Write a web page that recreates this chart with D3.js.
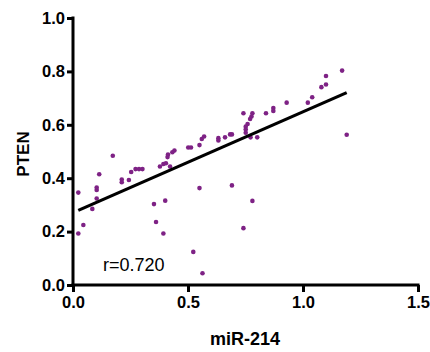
<!DOCTYPE html>
<html>
<head>
<meta charset="utf-8">
<script src="https://cdn.jsdelivr.net/npm/d3@7"></script>
<style>
body { margin: 0; background: #fff; }
text { font-family: "Liberation Sans", Arial, sans-serif; }
</style>
</head>
<body>
<script>
// miR-214 (x) vs PTEN (y)
var mir214 = [0.023, 0.023, 0.045, 0.084, 0.103, 0.103, 0.103, 0.114, 0.173, 0.212,
  0.212, 0.243, 0.253, 0.272, 0.287, 0.302, 0.352, 0.361, 0.378, 0.393,
  0.404, 0.411, 0.413, 0.422, 0.393, 0.401, 0.432, 0.441, 0.501, 0.513,
  0.550, 0.550, 0.560, 0.570, 0.523, 0.563, 0.632, 0.632, 0.661, 0.683,
  0.691, 0.691, 0.741, 0.780, 0.741, 0.780, 0.776, 0.770, 0.759, 0.751,
  0.751, 0.751, 0.772, 0.801, 0.839, 0.871, 0.871, 0.929, 1.021, 1.040,
  1.080, 1.100, 1.100, 1.170, 1.190];
var pten = [0.346, 0.193, 0.225, 0.285, 0.324, 0.356, 0.365, 0.415, 0.484, 0.395,
  0.385, 0.393, 0.423, 0.434, 0.434, 0.434, 0.303, 0.236, 0.444, 0.453,
  0.456, 0.479, 0.489, 0.444, 0.193, 0.316, 0.497, 0.504, 0.515, 0.515,
  0.524, 0.363, 0.547, 0.556, 0.124, 0.044, 0.550, 0.541, 0.553, 0.564,
  0.564, 0.373, 0.213, 0.315, 0.643, 0.643, 0.631, 0.622, 0.603, 0.593,
  0.582, 0.570, 0.553, 0.553, 0.643, 0.663, 0.652, 0.683, 0.683, 0.703,
  0.741, 0.751, 0.783, 0.803, 0.563];
var xTicks = [0, 0.5, 1.0, 1.5];
var yTicks = [0, 0.2, 0.4, 0.6, 0.8, 1.0];
var rLabel = "r=0.720";

var width = 430, height = 352;
var x = d3.scaleLinear().domain([0, 1.5]).range([73, 418]);
var y = d3.scaleLinear().domain([0, 1.0]).range([285, 18]);

var svg = d3.select("body").append("svg")
    .attr("width", width)
    .attr("height", height);

// least squares fit
var mx = d3.mean(mir214), my = d3.mean(pten);
var sxy = d3.sum(mir214, function(d, i){ return (d - mx) * (pten[i] - my); });
var sxx = d3.sum(mir214, function(d){ return (d - mx) * (d - mx); });
var slope = sxy / sxx, icpt = my - slope * mx;
var ext = d3.extent(mir214);

svg.selectAll("circle")
    .data(mir214)
    .enter().append("circle")
    .attr("cx", function(d){ return x(d); })
    .attr("cy", function(d, i){ return y(pten[i]); })
    .attr("r", 2.3)
    .attr("fill", "#7e2285");

svg.append("line")
    .attr("x1", x(ext[0])).attr("y1", y(icpt + slope * ext[0]))
    .attr("x2", x(ext[1])).attr("y2", y(icpt + slope * ext[1]))
    .attr("stroke", "#000")
    .attr("stroke-width", 3.2);

var xAxis = svg.append("g")
    .attr("transform", "translate(0,285)")
    .call(d3.axisBottom(x).tickValues(xTicks).tickFormat(d3.format(".1f")).tickSizeOuter(0).tickSize(7).tickPadding(4));
var yAxis = svg.append("g")
    .attr("transform", "translate(73,0)")
    .call(d3.axisLeft(y).tickValues(yTicks).tickFormat(d3.format(".1f")).tickSizeOuter(0).tickSize(6).tickPadding(2));

[xAxis, yAxis].forEach(function(g){
  g.select(".domain").attr("stroke", "#000").attr("stroke-width", 3);
  g.selectAll(".tick line").attr("stroke", "#000").attr("stroke-width", 3);
  g.selectAll("text")
    .attr("fill", "#000")
    .style("font-family", "Liberation Sans, Arial, sans-serif")
    .style("font-size", "16.5px")
    .style("font-weight", "bold");
});
// extend domains so the line caps cover the corner
xAxis.select(".domain").attr("d", "M" + (x(0) - 1.5) + ",0H" + (x(1.5) + 1.5));
yAxis.select(".domain").attr("d", "M0," + (y(0) + 1.5) + "V" + (y(1.0) - 1.5));

svg.append("text")
    .attr("x", 245)
    .attr("y", 345)
    .attr("text-anchor", "middle")
    .style("font-size", "18px")
    .style("font-weight", "bold")
    .text("miR-214");

svg.append("text")
    .attr("transform", "translate(29,154) rotate(-90)")
    .attr("text-anchor", "middle")
    .style("font-size", "17px")
    .style("font-weight", "bold")
    .text("PTEN");

svg.append("text")
    .attr("x", 103)
    .attr("y", 271)
    .style("font-size", "18px")
    .text(rLabel);
</script>
</body>
</html>
